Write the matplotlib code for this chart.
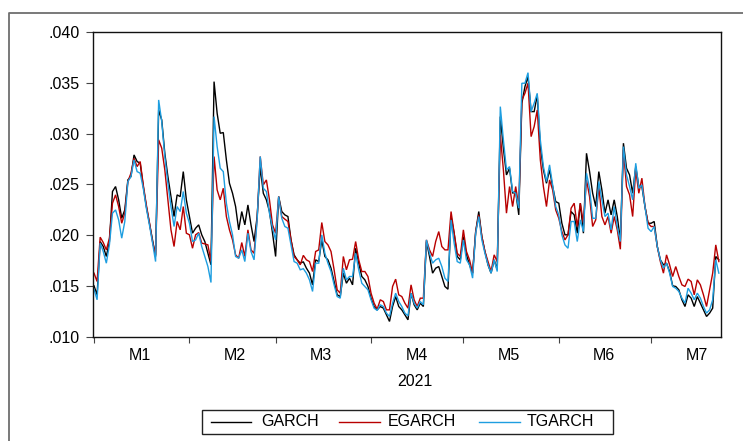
import matplotlib
matplotlib.use("Agg")
import matplotlib.pyplot as plt
from matplotlib.lines import Line2D
from matplotlib.patches import Rectangle
import pandas as pd

plt.rcParams['font.family'] = ['Liberation Sans', 'DejaVu Sans']

# Daily conditional volatility estimates, 2021-01-01 .. 2021-07-23
dates = pd.date_range("2021-01-01", periods=204, freq="D")

garch = [
    0.01503, 0.01415, 0.01939, 0.01890, 0.01792, 0.01939, 0.02431, 0.02480, 0.02349, 0.02168,
    0.02250, 0.02545, 0.02578, 0.02791, 0.02726, 0.02709, 0.02480, 0.02283, 0.02119, 0.01955,
    0.01792, 0.03233, 0.03135, 0.02807, 0.02578, 0.02381, 0.02185, 0.02398, 0.02381, 0.02627,
    0.02349, 0.02185, 0.02021, 0.02070, 0.02103, 0.02005, 0.01939, 0.01824, 0.01710, 0.03512,
    0.03201, 0.03004, 0.03011, 0.02742, 0.02512, 0.02414, 0.02283, 0.02054, 0.02234, 0.02103,
    0.02299, 0.02103, 0.01939, 0.02185, 0.02676, 0.02414, 0.02349, 0.02234, 0.02021, 0.01792,
    0.02381, 0.02234, 0.02201, 0.02185, 0.01955, 0.01808, 0.01759, 0.01726, 0.01740, 0.01677,
    0.01628, 0.01513, 0.01759, 0.01742, 0.01955, 0.01792, 0.01759, 0.01677, 0.01546, 0.01415,
    0.01398, 0.01628, 0.01529, 0.01579, 0.01513, 0.01873, 0.01726, 0.01595, 0.01562, 0.01497,
    0.01382, 0.01300, 0.01267, 0.01300, 0.01284, 0.01218, 0.01153, 0.01300, 0.01398, 0.01300,
    0.01267, 0.01218, 0.01169, 0.01431, 0.01317, 0.01267, 0.01333, 0.01300, 0.01939, 0.01792,
    0.01628, 0.01677, 0.01693, 0.01595, 0.01497, 0.01470, 0.02185, 0.02021, 0.01792, 0.01759,
    0.01988, 0.01808, 0.01710, 0.01628, 0.02037, 0.02234, 0.01988, 0.01841, 0.01710, 0.01628,
    0.01759, 0.01661, 0.03168, 0.02857, 0.02594, 0.02660, 0.02414, 0.02431, 0.02201, 0.03299,
    0.03463, 0.03561, 0.03217, 0.03217, 0.03381, 0.02873, 0.02644, 0.02512, 0.02644, 0.02480,
    0.02332, 0.02316, 0.02119, 0.02005, 0.02005, 0.02234, 0.02201, 0.02021, 0.02316, 0.02021,
    0.02807, 0.02627, 0.02414, 0.02283, 0.02627, 0.02447, 0.02218, 0.02349, 0.02201, 0.02349,
    0.02185, 0.01955, 0.02906, 0.02660, 0.02594, 0.02414, 0.02676, 0.02480, 0.02480, 0.02283,
    0.02119, 0.02119, 0.02136, 0.01890, 0.01759, 0.01710, 0.01726, 0.01644, 0.01503, 0.01497,
    0.01464, 0.01366, 0.01300, 0.01415, 0.01382, 0.01300, 0.01398, 0.01333, 0.01267, 0.01202,
    0.01235, 0.01284, 0.01792, 0.01759,
]

egarch = [
    0.01628, 0.01546, 0.01982, 0.01929, 0.01857, 0.01972, 0.02316, 0.02398, 0.02283, 0.02119,
    0.02218, 0.02529, 0.02611, 0.02758, 0.02676, 0.02726, 0.02496, 0.02299, 0.02126, 0.01939,
    0.01808, 0.02939, 0.02857, 0.02644, 0.02349, 0.02054, 0.01890, 0.02136, 0.02054, 0.02283,
    0.02021, 0.02005, 0.01873, 0.02005, 0.02027, 0.01923, 0.01916, 0.01906, 0.01742, 0.02775,
    0.02447, 0.02349, 0.02463, 0.02185, 0.02054, 0.01955, 0.01808, 0.01775, 0.01929, 0.01792,
    0.02054, 0.01857, 0.01824, 0.02168, 0.02775, 0.02496, 0.02545, 0.02349, 0.02103, 0.02021,
    0.02381, 0.02185, 0.02159, 0.02136, 0.01955, 0.01792, 0.01759, 0.01710, 0.01803, 0.01759,
    0.01742, 0.01644, 0.01841, 0.01857, 0.02126, 0.01939, 0.01906, 0.01841, 0.01661, 0.01464,
    0.01431, 0.01792, 0.01661, 0.01759, 0.01765, 0.01939, 0.01759, 0.01644, 0.01644, 0.01595,
    0.01431, 0.01333, 0.01274, 0.01366, 0.01349, 0.01267, 0.01267, 0.01497, 0.01569, 0.01415,
    0.01398, 0.01333, 0.01284, 0.01513, 0.01366, 0.01300, 0.01382, 0.01382, 0.01955, 0.01857,
    0.01792, 0.01939, 0.02037, 0.01890, 0.01857, 0.01857, 0.02234, 0.02021, 0.01824, 0.01792,
    0.02054, 0.01841, 0.01759, 0.01628, 0.02037, 0.02201, 0.01988, 0.01841, 0.01742, 0.01644,
    0.01808, 0.01742, 0.02988, 0.02644, 0.02218, 0.02480, 0.02283, 0.02480, 0.02283, 0.03332,
    0.03397, 0.03496, 0.02971, 0.03070, 0.03233, 0.02742, 0.02480, 0.02283, 0.02545, 0.02447,
    0.02250, 0.02168, 0.02037, 0.01955, 0.02005, 0.02267, 0.02316, 0.02087, 0.02316, 0.02119,
    0.02545, 0.02381, 0.02087, 0.02152, 0.02480, 0.02185, 0.02103, 0.02185, 0.02021, 0.02185,
    0.02054, 0.01863, 0.02840, 0.02480, 0.02398, 0.02185, 0.02644, 0.02414, 0.02562, 0.02283,
    0.02119, 0.02087, 0.02087, 0.01890, 0.01742, 0.01628, 0.01808, 0.01710, 0.01595, 0.01693,
    0.01595, 0.01513, 0.01497, 0.01569, 0.01546, 0.01415, 0.01562, 0.01513, 0.01415, 0.01300,
    0.01464, 0.01628, 0.01906, 0.01742,
]

tgarch = [
    0.01470, 0.01366, 0.01923, 0.01841, 0.01726, 0.01906, 0.02218, 0.02250, 0.02152, 0.01972,
    0.02136, 0.02529, 0.02578, 0.02742, 0.02627, 0.02611, 0.02463, 0.02267, 0.02103, 0.01929,
    0.01742, 0.03332, 0.03119, 0.02775, 0.02512, 0.02283, 0.02087, 0.02283, 0.02234, 0.02431,
    0.02218, 0.02119, 0.01939, 0.01955, 0.02021, 0.01890, 0.01792, 0.01693, 0.01536, 0.03168,
    0.02873, 0.02660, 0.02627, 0.02316, 0.02136, 0.02005, 0.01792, 0.01775, 0.01857, 0.01742,
    0.02021, 0.01841, 0.01759, 0.02152, 0.02775, 0.02463, 0.02431, 0.02218, 0.02070, 0.01955,
    0.02381, 0.02168, 0.02087, 0.02070, 0.01906, 0.01742, 0.01726, 0.01661, 0.01672, 0.01628,
    0.01562, 0.01448, 0.01726, 0.01726, 0.02005, 0.01824, 0.01726, 0.01644, 0.01513, 0.01398,
    0.01382, 0.01677, 0.01562, 0.01595, 0.01595, 0.01824, 0.01661, 0.01529, 0.01497, 0.01464,
    0.01366, 0.01284, 0.01261, 0.01317, 0.01300, 0.01235, 0.01202, 0.01333, 0.01431, 0.01349,
    0.01300, 0.01235, 0.01208, 0.01431, 0.01333, 0.01284, 0.01349, 0.01317, 0.01955, 0.01824,
    0.01726, 0.01759, 0.01775, 0.01693, 0.01579, 0.01546, 0.02152, 0.01923, 0.01742, 0.01726,
    0.01955, 0.01759, 0.01710, 0.01579, 0.02021, 0.02185, 0.01955, 0.01824, 0.01710, 0.01628,
    0.01759, 0.01644, 0.03266, 0.02939, 0.02644, 0.02676, 0.02431, 0.02414, 0.02267, 0.03496,
    0.03496, 0.03600, 0.03217, 0.03299, 0.03397, 0.02939, 0.02676, 0.02529, 0.02693, 0.02496,
    0.02283, 0.02201, 0.02005, 0.01906, 0.01873, 0.02136, 0.02136, 0.01939, 0.02152, 0.02037,
    0.02611, 0.02463, 0.02168, 0.02168, 0.02529, 0.02349, 0.02185, 0.02218, 0.02054, 0.02283,
    0.02087, 0.01939, 0.02873, 0.02594, 0.02480, 0.02349, 0.02709, 0.02463, 0.02496, 0.02283,
    0.02070, 0.02037, 0.02087, 0.01890, 0.01759, 0.01677, 0.01726, 0.01628, 0.01497, 0.01480,
    0.01448, 0.01382, 0.01333, 0.01480, 0.01431, 0.01366, 0.01431, 0.01382, 0.01300, 0.01235,
    0.01267, 0.01366, 0.01759, 0.01628,
]

series_names = ["GARCH", "EGARCH", "TGARCH"]
series_colors = ["#000000", "#B80000", "#1E9EE0"]
month_labels = ["M1", "M2", "M3", "M4", "M5", "M6", "M7"]
year_label = "2021"
y_ticks = [0.010, 0.015, 0.020, 0.025, 0.030, 0.035, 0.040]

FS = 11.5

fig = plt.figure(figsize=(7.43, 4.41), dpi=100)
ax = fig.add_axes([93 / 743, 1 - 337 / 441, 628 / 743, 305 / 441])

t0 = dates[0]
xday = [(d - t0).days for d in dates]
for vals, col in zip([garch, egarch, tgarch], series_colors):
    ax.plot(xday, vals, color=col, lw=1.0, solid_joinstyle="miter")

ax.set_xlim(-0.33, 203.7)
ax.set_ylim(0.010, 0.040)

# month boundaries as major ticks, month names centred on each month
month_starts = pd.date_range("2021-01-01", "2021-07-01", freq="MS")
bound = [(m - t0).days for m in month_starts]
ax.set_xticks(bound)
ax.set_xticklabels([])
ax.set_xticks([b + 14.8 for b in bound], minor=True)
ax.set_xticklabels(month_labels, minor=True)
ax.tick_params(axis="x", which="major", direction="out", length=4.5, width=0.8, color="#444444")
ax.tick_params(axis="x", which="minor", length=0, pad=8, labelsize=FS)

ax.set_yticks(y_ticks)
ax.set_yticklabels(["." + f"{v:.3f}".split(".")[1] for v in y_ticks])
ax.tick_params(axis="y", direction="out", length=5, width=0.8, pad=4.5, labelsize=FS,
               color="#444444")

for s in ax.spines.values():
    s.set_linewidth(1.0)
    s.set_color("#111111")

fig.text(415 / 743, 1 - 381 / 441, year_label, ha="center", va="center", fontsize=FS)

# legend box
ly = 1 - 422 / 441
fig.add_artist(Rectangle((202 / 743, 1 - 434 / 441), 411 / 743, 24 / 441,
                         transform=fig.transFigure, fill=False, lw=1.0, ec="#222222"))
for (x0, x1, xt), name, col in zip([(211, 251, 261), (339, 380, 388), (479, 520, 527)],
                                   series_names, series_colors):
    fig.add_artist(Line2D([x0 / 743, x1 / 743], [ly, ly], transform=fig.transFigure,
                          color=col, lw=1.0))
    fig.text(xt / 743, ly, name, ha="left", va="center", fontsize=FS)

# outer frame
fig.add_artist(Line2D([9 / 743, 9 / 743, 1.0], [0.0, 1 - 13 / 441, 1 - 13 / 441],
                      transform=fig.transFigure, color="#6E6E6E", lw=1.3))

fig.savefig("out.png", dpi=100)
